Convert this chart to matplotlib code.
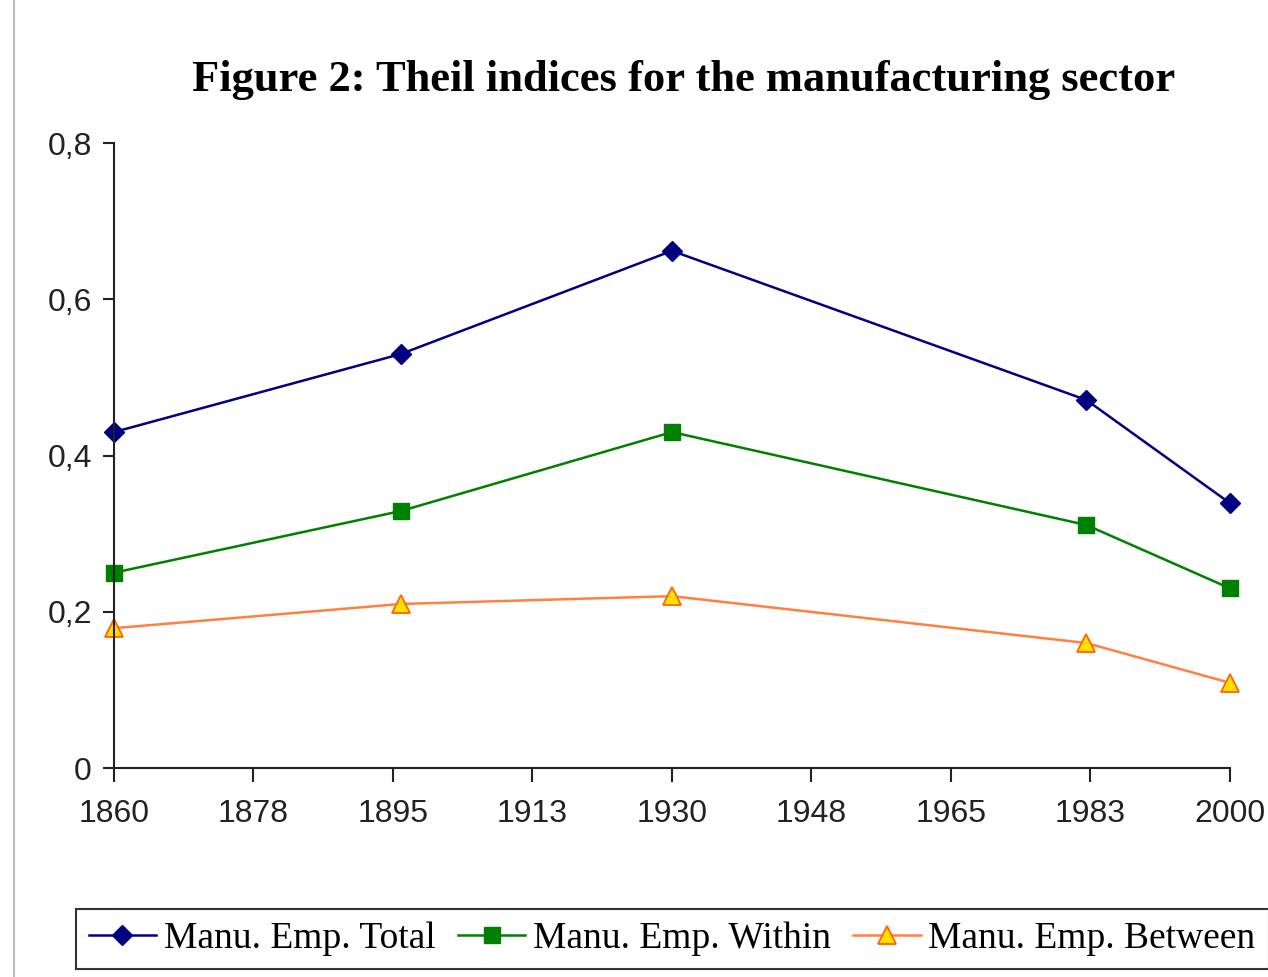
import numpy as np
import matplotlib.pyplot as plt
from matplotlib.lines import Line2D

# Theil indices, manufacturing sector
years = [1860, 1896, 1930, 1982, 2000]
total = [0.43, 0.53, 0.662, 0.471, 0.339]
within = [0.25, 0.329, 0.43, 0.311, 0.23]
between = [0.179, 0.21, 0.22, 0.16, 0.109]

xtick_labels = ["1860", "1878", "1895", "1913", "1930", "1948", "1965", "1983", "2000"]
ytick_vals = [0, 0.2, 0.4, 0.6, 0.8]
ytick_labels = ["0", "0,2", "0,4", "0,6", "0,8"]

fig = plt.figure(figsize=(12.68, 9.77), dpi=100)
ax = fig.add_axes([0.0899, 0.2139, 0.8801, 0.6397])

ax.plot(years, total, color="#000080", lw=1.8, marker="D", ms=10,
        mfc="#000080", mec="#000080", label="Manu. Emp. Total", clip_on=False)
ax.plot(years, within, color="#008000", lw=1.8, marker="s", ms=11,
        mfc="#008000", mec="#008000", label="Manu. Emp. Within", clip_on=False)
ax.plot(years, between, color="#FF8040", lw=1.8, marker="^", ms=13,
        mfc="#FFE000", mec="#FF6600", mew=1.3, label="Manu. Emp. Between", clip_on=False)

ax.set_xlim(1860, 2000)
ax.set_ylim(0, 0.8)
ax.set_xticks(np.linspace(1860, 2000, len(xtick_labels)))
ax.set_xticklabels(xtick_labels)
ax.set_yticks(ytick_vals)
ax.set_yticklabels(ytick_labels)

for s in ["top", "right"]:
    ax.spines[s].set_visible(False)
for s in ["left", "bottom"]:
    ax.spines[s].set_linewidth(1.5)
    ax.spines[s].set_color("#222222")

ax.tick_params(axis="x", direction="out", length=10, width=1.5, pad=12,
               labelsize=23, colors="#222222")
ax.tick_params(axis="y", direction="out", length=8, width=1.5, pad=8,
               labelsize=23, colors="#222222")
for lab in ax.get_xticklabels() + ax.get_yticklabels():
    lab.set_family("Liberation Sans")

fig.text(0.539, 0.918, "Figure 2: Theil indices for the manufacturing sector",
         ha="center", va="center", family="Liberation Serif",
         fontweight="bold", fontsize=32)

leg = fig.legend(loc="center", bbox_to_anchor=(0.530, 0.039), ncol=3,
                 prop={"family": "Liberation Serif", "size": 27},
                 frameon=True, fancybox=False, edgecolor="black",
                 handlelength=1.8, handletextpad=0.2, columnspacing=0.6,
                 borderpad=0.35)
leg.get_frame().set_linewidth(1.5)

# thin gray border line on the left edge, as in the source image
fig.add_artist(Line2D([0.011, 0.011], [0, 1], color="#bbbbbb", lw=1.5))

fig.savefig("out.png", dpi=100)
